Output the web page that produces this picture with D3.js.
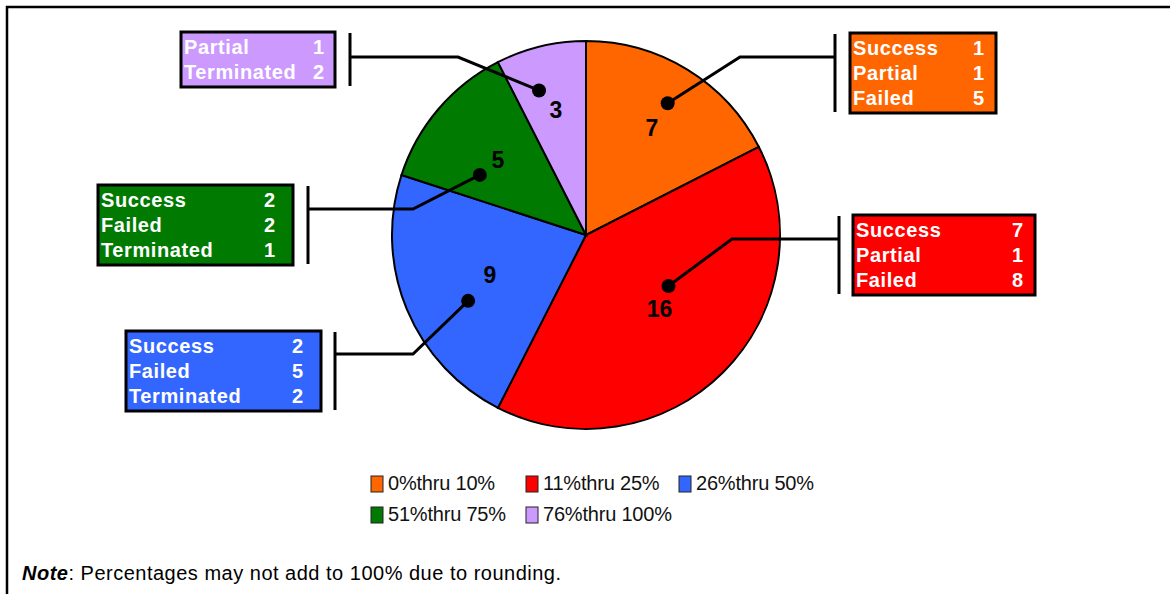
<!DOCTYPE html>
<html>
<head>
<meta charset="utf-8">
<script src="https://cdn.jsdelivr.net/npm/d3@7"></script>
<style>
  body { margin: 0; background: #fff; }
  svg text { font-family: "Liberation Sans", Arial, sans-serif; }
</style>
</head>
<body>
<svg id="chart" width="1170" height="594"></svg>
<script>
// Pie slices, clockwise from 12 o'clock
const categories = ["0%thru 10%", "11%thru 25%", "26%thru 50%", "51%thru 75%", "76%thru 100%"];
const counts = [7, 16, 9, 5, 3];
const colors = ["#FF6600", "#FF0000", "#3366FF", "#007A00", "#CC99FF"];

// Callout breakdown for each slice
const outcomeNames = [
    ["Success", "Partial", "Failed"],
    ["Success", "Partial", "Failed"],
    ["Success", "Failed", "Terminated"],
    ["Success", "Failed", "Terminated"],
    ["Partial", "Terminated"]
];
const outcomeValues = [
    [1, 1, 5],
    [7, 1, 8],
    [2, 5, 2],
    [2, 2, 1],
    [1, 2]
];

const noteText = ": Percentages may not add to 100% due to rounding.";

// layout of the callouts (box, bracket bar, leader bend, dot polar pos)
const callouts = [
    { bx: 850, by: 33, bw: 146, barX: 835, lineY: 57, bendX: 740, dotA: 31.8, dotR: 155, labR: 126, valPad: 12 },
    { bx: 853, by: 215, bw: 182, barX: 839, lineY: 239, bendX: 732, dotA: 121.7, dotR: 97, labR: 104, valPad: 12 },
    { bx: 126, by: 331, bw: 195, barX: 335, lineY: 354, bendX: 413, dotA: 240.8, dotR: 135, labR: 104, valPad: 18 },
    { bx: 98, by: 185, bw: 195, barX: 308, lineY: 209, bendX: 413, dotA: 299.5, dotR: 122, labR: 116, valPad: 18 },
    { bx: 181, by: 32, bw: 154, barX: 350, lineY: 57, bendX: 458, dotA: 342, dotR: 152, labR: 129, valPad: 11 }
];

const svg = d3.select("#chart");
const cx = 586, cy = 235, radius = 194;

// outer frame
svg.append("path")
    .attr("d", "M7,600 L7,7 L1180,7")
    .attr("fill", "none")
    .attr("stroke", "#000")
    .attr("stroke-width", 2.5);

const pie = d3.pie().sort(null).value(d => d);
const arcs = pie(counts);
const arc = d3.arc().innerRadius(0).outerRadius(radius);

const g = svg.append("g").attr("transform", `translate(${cx},${cy})`);

g.selectAll("path.slice")
    .data(arcs)
    .enter()
    .append("path")
    .attr("class", "slice")
    .attr("d", arc)
    .attr("fill", (d, i) => colors[i])
    .attr("stroke", "#000")
    .attr("stroke-width", 2);

// slice value labels
g.selectAll("text.val")
    .data(arcs)
    .enter()
    .append("text")
    .attr("class", "val")
    .attr("transform", (d, i) => {
        const c = d3.arc().innerRadius(callouts[i].labR).outerRadius(callouts[i].labR).centroid(d);
        return `translate(${c[0]},${c[1]})`;
    })
    .attr("text-anchor", "middle")
    .attr("dy", "0.36em")
    .attr("font-size", 23)
    .attr("font-weight", "bold")
    .text(d => d.data);

const polar = (deg, r) => {
    const a = deg * Math.PI / 180;
    return [cx + r * Math.sin(a), cy - r * Math.cos(a)];
};

// callouts
callouts.forEach((c, i) => {
    const rows = outcomeNames[i].length;
    const bh = rows * 25 + 5;
    const dot = polar(c.dotA, c.dotR);

    // leader line
    svg.append("polyline")
        .attr("points", [[c.barX, c.lineY], [c.bendX, c.lineY], dot].map(p => p.join(",")).join(" "))
        .attr("fill", "none")
        .attr("stroke", "#000")
        .attr("stroke-width", 3);

    svg.append("circle")
        .attr("cx", dot[0])
        .attr("cy", dot[1])
        .attr("r", 7)
        .attr("fill", "#000");

    // bracket bar
    svg.append("line")
        .attr("x1", c.barX).attr("x2", c.barX)
        .attr("y1", c.by + 1).attr("y2", c.by + bh - 1)
        .attr("stroke", "#000")
        .attr("stroke-width", 3);

    // box
    svg.append("rect")
        .attr("x", c.bx).attr("y", c.by)
        .attr("width", c.bw).attr("height", bh)
        .attr("fill", colors[i])
        .attr("stroke", "#000")
        .attr("stroke-width", 3);

    const box = svg.append("g");
    box.selectAll("text.name")
        .data(outcomeNames[i])
        .enter()
        .append("text")
        .attr("x", c.bx + 3)
        .attr("y", (d, k) => c.by + 22 + k * 25)
        .attr("fill", "#fff")
        .attr("font-size", 20)
        .attr("font-weight", "bold")
        .attr("letter-spacing", 0.6)
        .text(d => d);

    box.selectAll("text.num")
        .data(outcomeValues[i])
        .enter()
        .append("text")
        .attr("x", c.bx + c.bw - c.valPad)
        .attr("y", (d, k) => c.by + 22 + k * 25)
        .attr("text-anchor", "end")
        .attr("fill", "#fff")
        .attr("font-size", 20)
        .attr("font-weight", "bold")
        .text(d => d);
});

// legend
const legendPos = [[371, 476], [526, 476], [679, 476], [371, 507], [526, 507]];
const legend = svg.selectAll("g.legend")
    .data(categories)
    .enter()
    .append("g")
    .attr("class", "legend")
    .attr("transform", (d, i) => `translate(${legendPos[i][0]},${legendPos[i][1]})`);

legend.append("rect")
    .attr("width", 12)
    .attr("height", 16)
    .attr("fill", (d, i) => colors[i])
    .attr("stroke", "#222")
    .attr("stroke-width", 1);

legend.append("text")
    .attr("x", 17)
    .attr("y", 14)
    .attr("font-size", 20)
    .attr("letter-spacing", -0.2)
    .attr("fill", "#111")
    .text(d => d);

// note
const note = svg.append("text")
    .attr("x", 22)
    .attr("y", 580)
    .attr("font-size", 20)
    .attr("letter-spacing", 0.5)
    .attr("fill", "#000");
note.append("tspan").attr("font-weight", "bold").attr("font-style", "italic").text("Note");
note.append("tspan").text(noteText);
</script>
</body>
</html>
